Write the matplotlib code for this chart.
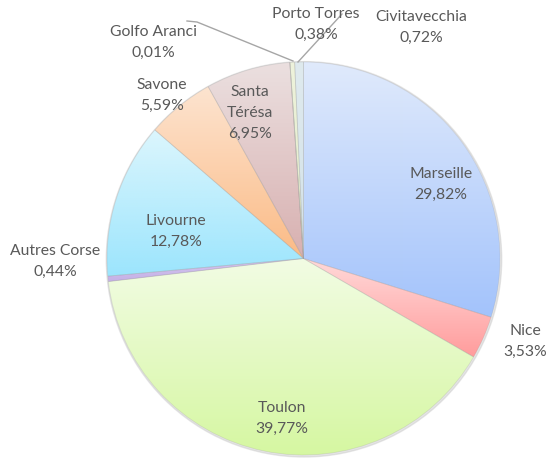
import matplotlib
matplotlib.use("Agg")
import matplotlib.pyplot as plt
import numpy as np
from matplotlib.colors import LinearSegmentedColormap
from matplotlib.patches import Circle

# data (clockwise from 12 o'clock)
ports = ["Marseille", "Nice", "Toulon", "Autres Corse", "Livourne", "Savone",
         "Santa\nTérésa", "Golfo Aranci", "Porto Torres", "Civitavecchia"]
shares = [29.82, 3.53, 39.77, 0.44, 12.78, 5.59, 6.95, 0.01, 0.38, 0.72]

# gradient colours, light at top -> darker at bottom
top_cols = ["#e0eafb", "#ffd9d9", "#f2fce4", "#d6c8f0", "#dcf6fd", "#fde4d0",
            "#ebe0e0", "#f4f4e0", "#eef3dc", "#dfeaee"]
bot_cols = ["#a3c3fb", "#ff9c9c", "#d5f7a0", "#c4b0e6", "#9ce5fd", "#fbbb86",
            "#d8b0b0", "#e8e8c8", "#e2ebc8", "#d3e2e8"]

# label centres in pixels (from top-left)
label_pos = [(441, 184), (525, 341), (282, 418), (55, 261), (176, 231),
             (162, 95), (250, 113), (153, 42), (316, 24), (421, 27)]

W, H = 548, 459
cx, cy, R = 303.5, H - 258.5, 196.5

fig = plt.figure(figsize=(W / 100, H / 100), dpi=100)
ax = fig.add_axes([0, 0, 1, 1])

# soft shadow around pie
ax.add_patch(Circle((cx + 0.5, cy - 0.8), R + 1.2, color="#c8c8c8", alpha=0.45, zorder=0))

wedges, _ = ax.pie(shares, startangle=90, counterclock=False, center=(cx, cy),
                   radius=R, wedgeprops=dict(linewidth=0.6, edgecolor=(0.55, 0.55, 0.55, 0.2)))

grad = np.linspace(0, 1, 256).reshape(-1, 1)
for w, c0, c1 in zip(wedges, bot_cols, top_cols):
    verts = w.get_patch_transform().transform(w.get_path().vertices)
    x0, y0 = verts.min(axis=0)
    x1, y1 = verts.max(axis=0)
    cmap = LinearSegmentedColormap.from_list("g", [c0, c1])
    im = ax.imshow(grad, extent=[x0, x1, y0, y1], origin="lower", cmap=cmap,
                   aspect="auto", zorder=1, interpolation="bilinear")
    im.set_clip_path(w)
    w.set_facecolor("none")
    w.set_zorder(2)

ax.set_xlim(0, W)
ax.set_ylim(0, H)
ax.set_aspect("equal")
ax.axis("off")

# leader lines
ax.plot([187, 197, 293], [H - 21, H - 22, H - 61], color="#a6a6a6", lw=1, zorder=3)
ax.plot([298, 342], [H - 62, H - 14], color="#a6a6a6", lw=1, zorder=3)

for name, val, (x, y) in zip(ports, shares, label_pos):
    txt = name + "\n" + f"{val:.2f}%".replace(".", ",")
    ax.text(x, H - y, txt, ha="center", va="center", fontsize=11.3,
            family="Lato", color="#595959", linespacing=1.62, zorder=4)

fig.savefig("out.png", dpi=100)
